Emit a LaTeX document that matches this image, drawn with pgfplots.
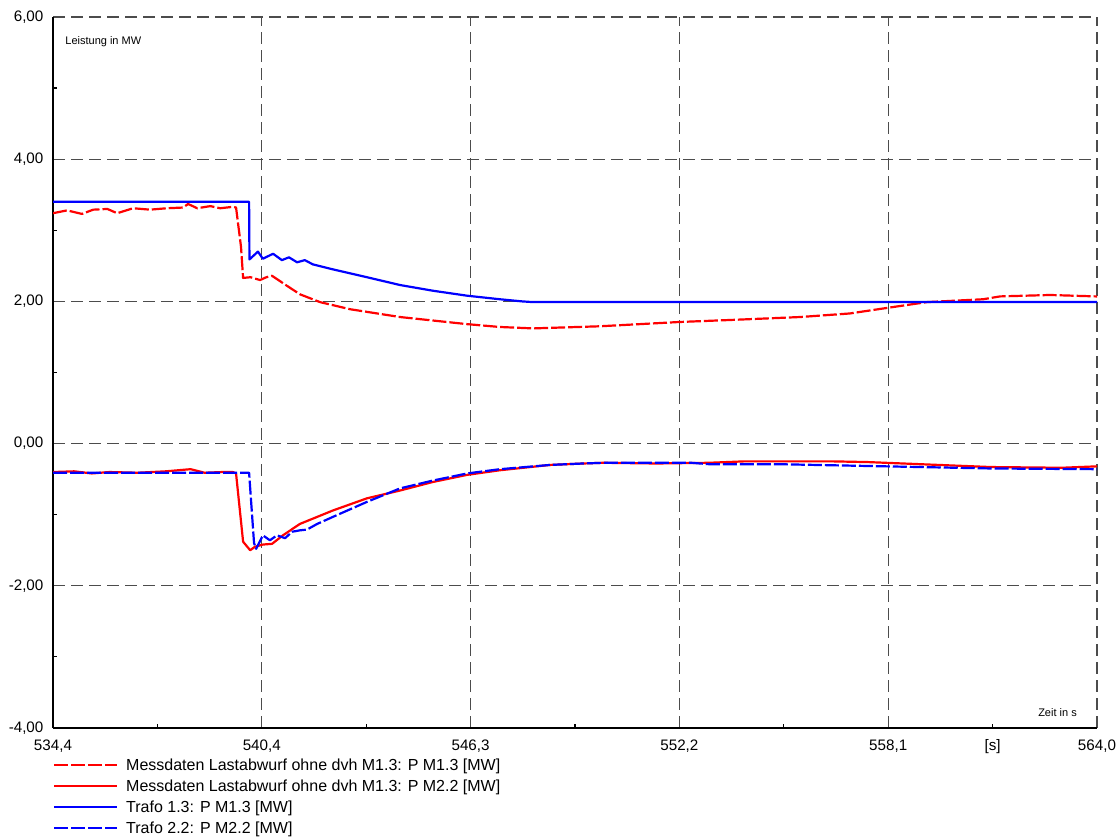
\documentclass[border=0pt]{standalone}
\usepackage{fontspec}
\setmainfont{Liberation Sans}
\usepackage{pgfplots}
\pgfplotsset{compat=1.18}

\definecolor{mred}{RGB}{255,0,0}
\definecolor{mblue}{RGB}{0,0,255}

\begin{document}
\begin{tikzpicture}
\begin{axis}[
    name=ax,
    scale only axis,
    width=522pt, height=355.5pt,
    xmin=534.4, xmax=564.0, ymin=-4, ymax=6,
    axis lines*=left,
    axis line style={line width=1.4pt, black},
    xtick={534.4,540.32,546.24,552.16,558.08,564.0},
    xticklabels={{534,4},{540,4},{546,3},{552,2},{558,1},{564,0}},
    minor xtick={537.36,543.28,549.2,555.12},
    extra x ticks={561.04},
    extra x tick labels={{[s]}},
    extra x tick style={grid=none, major tick length=2.2pt},
    ytick={-4,-2,0,2,4,6},
    yticklabels={{-4,00},{-2,00},{0,00},{2,00},{4,00},{6,00}},
    minor ytick={-3,-1,1,3,5},
    tick align=inside,
    major tick length=0pt, minor tick length=2.2pt,
    tick style={black, line width=0.6pt},
    grid=major,
    major grid style={black!70, line width=0.6pt, dash pattern=on 6pt off 3pt},
    xticklabel style={font=\fontsize{7.6}{9}\selectfont, inner sep=0pt, anchor=north, yshift=-5.5pt},
    yticklabel style={font=\fontsize{7.6}{9}\selectfont, inner sep=0pt, anchor=east, xshift=-4.6pt},
    legend style={at={(0,0)}, anchor=north west, yshift=-15.6pt,
        draw=none, fill=none, inner sep=0pt, outer sep=0pt,
        row sep=4.7pt, column sep=4pt,
        nodes={inner sep=0pt, text height=5.8pt, text depth=0pt},
        font=\fontsize{8}{9.6}\selectfont},
    legend cell align=left,
    legend image code/.code={\draw[#1] (0pt,0pt) -- (31.5pt,0pt);},
    every axis plot/.append style={line width=1.1pt, line join=round},
]

% Messdaten Lastabwurf, P M1.3
\addplot[mred, dash pattern=on 7pt off 1.5pt] coordinates {
(534.40,3.24) (534.80,3.28) (535.22,3.23) (535.54,3.29) (535.94,3.30)
(536.22,3.24) (536.67,3.31) (537.15,3.29) (537.63,3.31) (538.09,3.32)
(538.23,3.37) (538.49,3.31) (538.86,3.34) (539.14,3.31) (539.50,3.33)
(539.59,3.32) (539.73,2.77) (539.79,2.33) (540.00,2.34) (540.27,2.30)
(540.45,2.34) (540.61,2.36) (541.00,2.23) (541.40,2.10) (541.97,1.99)
(542.82,1.89) (544.24,1.78) (546.14,1.68) (547.07,1.64) (548.01,1.62)
(549.91,1.65) (552.15,1.71) (553.68,1.74) (555.58,1.78) (556.99,1.83)
(558.07,1.91) (559.18,1.99) (560.77,2.03) (561.25,2.07) (562.67,2.09)
(563.97,2.07) (564.00,2.07)
};
\addlegendentry{Messdaten Lastabwurf ohne dvh M1.3: P M1.3 [MW]}

% Messdaten Lastabwurf, P M2.2
\addplot[mred] coordinates {
(534.40,-0.40) (535.00,-0.39) (535.50,-0.42) (536.00,-0.40) (536.80,-0.41)
(537.60,-0.39) (538.30,-0.36) (538.70,-0.41) (539.20,-0.40) (539.50,-0.40)
(539.59,-0.42) (539.79,-1.38) (539.99,-1.50) (540.13,-1.45) (540.35,-1.42)
(540.61,-1.41) (540.92,-1.29) (541.40,-1.13) (542.34,-0.94) (543.30,-0.77)
(544.24,-0.66) (545.17,-0.54) (546.14,-0.44) (547.07,-0.375) (548.50,-0.30)
(549.43,-0.28) (550.00,-0.27) (551.50,-0.28) (553.00,-0.27) (554.00,-0.25)
(556.50,-0.25) (557.50,-0.26) (558.50,-0.28) (559.50,-0.30) (561.00,-0.33)
(563.00,-0.34) (564.00,-0.32)
};
\addlegendentry{Messdaten Lastabwurf ohne dvh M1.3: P M2.2 [MW]}

% Trafo 1.3
\addplot[mblue] coordinates {
(534.40,3.40) (539.96,3.40) (539.97,2.59) (540.21,2.70) (540.35,2.60)
(540.64,2.67) (540.89,2.58) (541.09,2.62) (541.32,2.55) (541.54,2.58)
(541.77,2.52) (542.34,2.45) (543.30,2.34) (544.24,2.23) (545.17,2.15)
(546.14,2.08) (547.07,2.03) (547.70,2.00) (548.01,1.99) (564.00,1.99)
};
\addlegendentry{Trafo 1.3: P M1.3 [MW]}

% Trafo 2.2
\addplot[mblue, dash pattern=on 7pt off 1.5pt] coordinates {
(534.40,-0.41) (539.96,-0.41) (540.10,-1.40) (540.16,-1.48) (540.35,-1.29)
(540.55,-1.36) (540.75,-1.29) (540.98,-1.33) (541.18,-1.24) (541.40,-1.22)
(541.60,-1.21) (541.89,-1.13) (542.34,-1.03) (543.30,-0.82) (544.24,-0.63)
(545.17,-0.52) (546.14,-0.42) (547.07,-0.36) (548.50,-0.30) (549.43,-0.28)
(550.00,-0.27) (552.50,-0.27) (553.00,-0.29) (555.00,-0.29) (557.00,-0.31)
(559.00,-0.33) (561.00,-0.35) (564.00,-0.36)
};
\addlegendentry{Trafo 2.2: P M2.2 [MW]}

\node[anchor=west, font=\fontsize{5.5}{6.6}\selectfont, inner sep=0pt]
    at (rel axis cs:0.0115,0.965) {Leistung in MW};
\node[anchor=east, font=\fontsize{5.5}{6.6}\selectfont, inner sep=0pt]
    at (rel axis cs:0.981,0.021) {Zeit in s};
\end{axis}
\pgfresetboundingbox
\path (ax.south west) ++(-26.5pt,-55pt) coordinate (bl);
\path (ax.south west) ++(532.5pt,364pt) coordinate (tr);
\path (bl) rectangle (tr);
\end{tikzpicture}
\end{document}
